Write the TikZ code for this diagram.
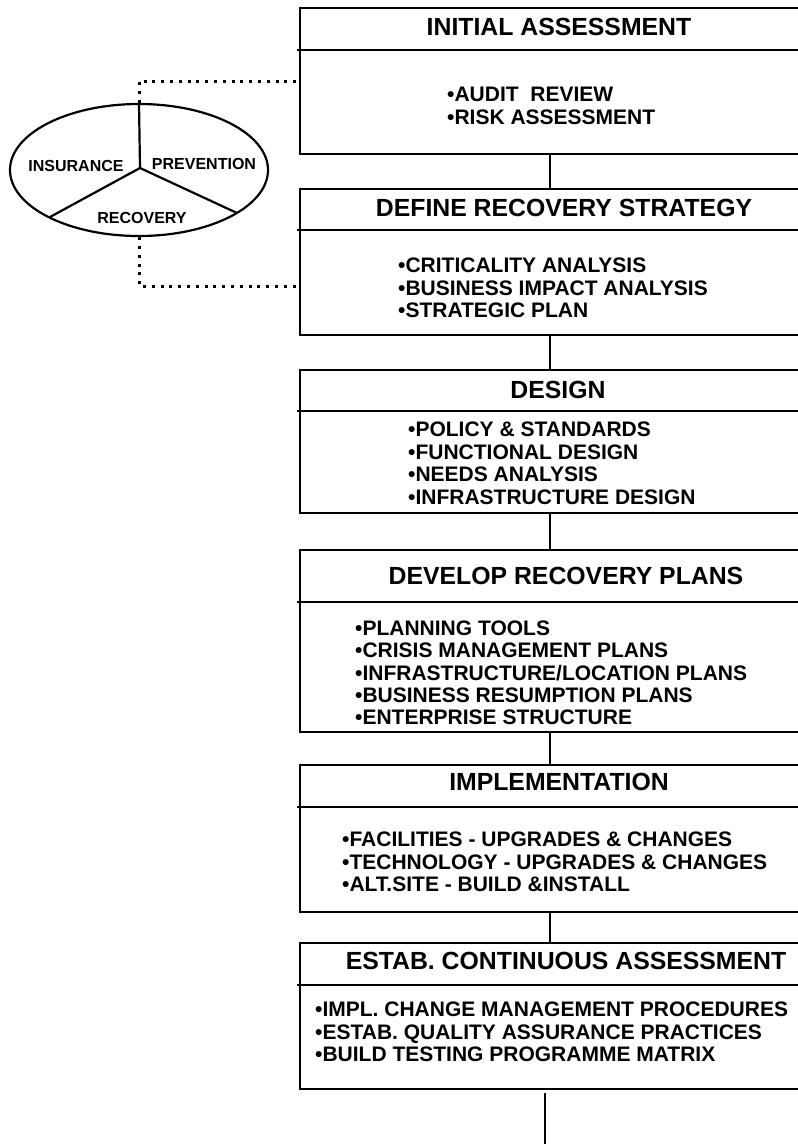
\documentclass[tikz,border=0pt]{standalone}
\usepackage{fontspec}
\setmainfont{Liberation Sans}
\usetikzlibrary{shapes.geometric}
\begin{document}
\begin{tikzpicture}[x=1pt,y=-1pt,
  stagebox/.style={draw, line width=2.2pt, rectangle, anchor=north west,
                   minimum width=540pt, inner sep=0pt},
  divider/.style={line width=2.2pt},
  link/.style={line width=2.2pt},
  dotlink/.style={line width=3pt, dash pattern=on 3pt off 5.8pt},
  headtext/.style={font=\fontsize{24.8}{28}\selectfont\bfseries, inner sep=0pt, anchor=base},
  bodytext/.style={font=\fontsize{21}{22.4}\selectfont\bfseries, inner sep=0pt, anchor=base west},
  triadtext/.style={font=\fontsize{16}{18}\selectfont\bfseries, inner sep=0pt, anchor=base},
  triad/.style={draw, ellipse, line width=2.2pt, inner sep=0pt,
                minimum width=258pt, minimum height=132pt}]
\useasboundingbox (0,0) rectangle (798,1144);
\fill[white] (0,0) rectangle (798,1144);
\clip (0,0) rectangle (798,1144);

% ---- the three-part ellipse ----
\node[triad] (triad) at (139,170) {};
\coordinate (hub) at (140,168);
\coordinate (cutL) at (50,217);
\coordinate (cutR) at (237,213);
\draw[link] (hub) -- (triad.north);
\draw[link] (hub) -- (cutL);
\draw[link] (hub) -- (cutR);
\node[triadtext] (ins) at (76,171.7) {INSURANCE};
\node[triadtext] (prev) at (204,169.7) {PREVENTION};
\node[triadtext] (recov) at (142,223.7) {RECOVERY};

% ---- stage boxes ----
\node[stagebox, minimum height=146pt] (s1) at (299,7) {};
\node[stagebox, minimum height=146pt] (s2) at (299,188) {};
\node[stagebox, minimum height=143pt] (s3) at (299,369) {};
\node[stagebox, minimum height=182pt] (s4) at (299,549) {};
\node[stagebox, minimum height=147pt] (s5) at (299,764) {};
\node[stagebox, minimum height=146pt] (s6) at (299,942) {};

% header dividers
\draw[divider] (297,50) -- (s1.east |- 0,50);
\draw[divider] (297,230) -- (s2.east |- 0,230);
\draw[divider] (297,411) -- (s3.east |- 0,411);
\draw[divider] (297,602) -- (s4.east |- 0,602);
\draw[divider] (297,807) -- (s5.east |- 0,807);
\draw[divider] (297,985) -- (s6.east |- 0,985);

% headers
\node[headtext] (h1) at (559,35.9) {INITIAL ASSESSMENT};
\node[headtext] (h2) at (564,216.9) {DEFINE RECOVERY STRATEGY};
\node[headtext] (h3) at (558,398.9) {DESIGN};
\node[headtext] (h4) at (566,584.9) {DEVELOP RECOVERY PLANS};
\node[headtext] (h5) at (559,790.9) {IMPLEMENTATION};
\node[headtext] (h6) at (566,969.9) {ESTAB. CONTINUOUS ASSESSMENT};

% body lists
\foreach \t [count=\i] in {•AUDIT\ \ REVIEW, •RISK ASSESSMENT}
  \node[bodytext] (a\i) at (447,{101.5+(\i-1)*22.8}) {\t};
\foreach \t [count=\i] in {•CRITICALITY ANALYSIS, •BUSINESS IMPACT ANALYSIS, •STRATEGIC PLAN}
  \node[bodytext] (b\i) at (398,{272.5+(\i-1)*22.5}) {\t};
\foreach \t [count=\i] in {•POLICY \& STANDARDS, •FUNCTIONAL DESIGN, •NEEDS ANALYSIS, •INFRASTRUCTURE DESIGN}
  \node[bodytext] (c\i) at (408,{436.5+(\i-1)*22.6}) {\t};
\foreach \t [count=\i] in {•PLANNING TOOLS, •CRISIS MANAGEMENT PLANS, •INFRASTRUCTURE/LOCATION PLANS, •BUSINESS RESUMPTION PLANS, •ENTERPRISE STRUCTURE}
  \node[bodytext] (d\i) at (355,{635.5+(\i-1)*22.3}) {\t};
\foreach \t [count=\i] in {•FACILITIES - UPGRADES \& CHANGES, •TECHNOLOGY - UPGRADES \& CHANGES, •ALT.SITE - BUILD \&INSTALL}
  \node[bodytext] (e\i) at (342,{846.5+(\i-1)*22.5}) {\t};
\foreach \t [count=\i] in {•IMPL. CHANGE MANAGEMENT PROCEDURES, •ESTAB. QUALITY ASSURANCE PRACTICES, •BUILD TESTING PROGRAMME MATRIX}
  \node[bodytext] (f\i) at (315,{1016.5+(\i-1)*22.5}) {\t};

% connectors between stages
\coordinate (spine) at (550,0);
\draw[link] (s1.south -| spine) -- (s2.north -| spine);
\draw[link] (s2.south -| spine) -- (s3.north -| spine);
\draw[link] (s3.south -| spine) -- (s4.north -| spine);
\draw[link] (s4.south -| spine) -- (s5.north -| spine);
\draw[link] (s5.south -| spine) -- (s6.north -| spine);
\coordinate (tailtop) at (545,1093);
\coordinate (tailend) at (545,1144);
\draw[link] (tailtop) -- (tailend);

% dotted ties from the ellipse to the first two stages
\coordinate (tie1) at (299,81);
\coordinate (tie2) at (299,286);
\draw[dotlink] (triad.north) |- (tie1);
\draw[dotlink] (triad.south) |- (tie2);
\end{tikzpicture}
\end{document}
